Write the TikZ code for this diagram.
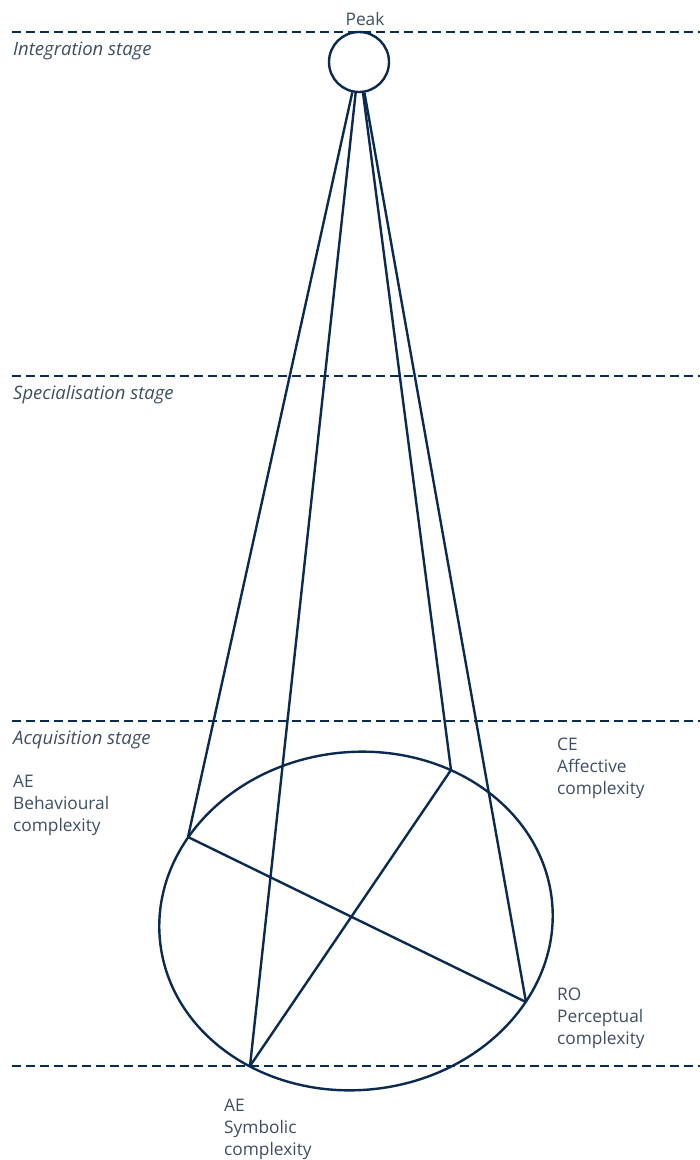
\documentclass[tikz,border=0pt]{standalone}
\usepackage{fontspec}
\setmainfont{Open Sans}
\usetikzlibrary{positioning}
\definecolor{navy}{HTML}{0B2A50}
\definecolor{slate}{HTML}{3E4E62}

\begin{document}
\begin{tikzpicture}[x=1pt,y=-1pt,
  stageline/.style={draw=navy,line width=2.5pt,dash pattern=on 9pt off 5pt},
  stage/.style={anchor=west,inner sep=0pt,font=\fontsize{18.5}{22}\selectfont\itshape,text=slate},
  lbl/.style={anchor=north west,inner sep=0pt,align=left,font=\fontsize{17.3}{22}\selectfont,text=slate},
  edge/.style={draw=navy,line width=2.4pt}]
\useasboundingbox (0,0) rectangle (700,1160);
% Stage lines
\draw[stageline] (12,32) -- (700,32);
\draw[stageline] (12,376) -- (700,376);
\draw[stageline] (12,721) -- (700,721);
\draw[stageline] (12,1066) -- (700,1066);
\node[stage] (integ) at (13,51) {Integration stage};
\node[stage] (spec) at (13,395) {Specialisation stage};
\node[stage] (acq) at (13,740) {Acquisition stage};
% Peak
\node[circle,draw=navy,line width=2.4pt,minimum size=60pt,inner sep=0pt] (peak) at (359,62) {};
\node[inner sep=0pt,font=\fontsize{17.3}{22}\selectfont,text=slate] (peaklbl) at (365,19) {Peak};
% Base ellipse
\draw[edge] (356,921) ellipse[x radius=197,y radius=169,rotate=6];
\coordinate (beh) at (188,837);
\coordinate (aff) at (451,770);
\coordinate (per) at (526,1002);
\coordinate (sym) at (250,1066);
\draw[edge] (beh) -- (per);
\draw[edge] (aff) -- (sym);
\draw[edge] (peak) -- (beh);
\draw[edge] (peak) -- (sym);
\draw[edge] (peak) -- (aff);
\draw[edge] (peak) -- (per);
% Labels
\node[lbl] (behlbl) at (13,775) {AE\\Behavioural\\complexity};
\node[lbl] (afflbl) at (557,738) {CE\\Affective\\complexity};
\node[lbl] (perlbl) at (557,988) {RO\\Perceptual\\complexity};
\node[lbl] (symlbl) at (224,1099) {AE\\Symbolic\\complexity};
\end{tikzpicture}
\end{document}
